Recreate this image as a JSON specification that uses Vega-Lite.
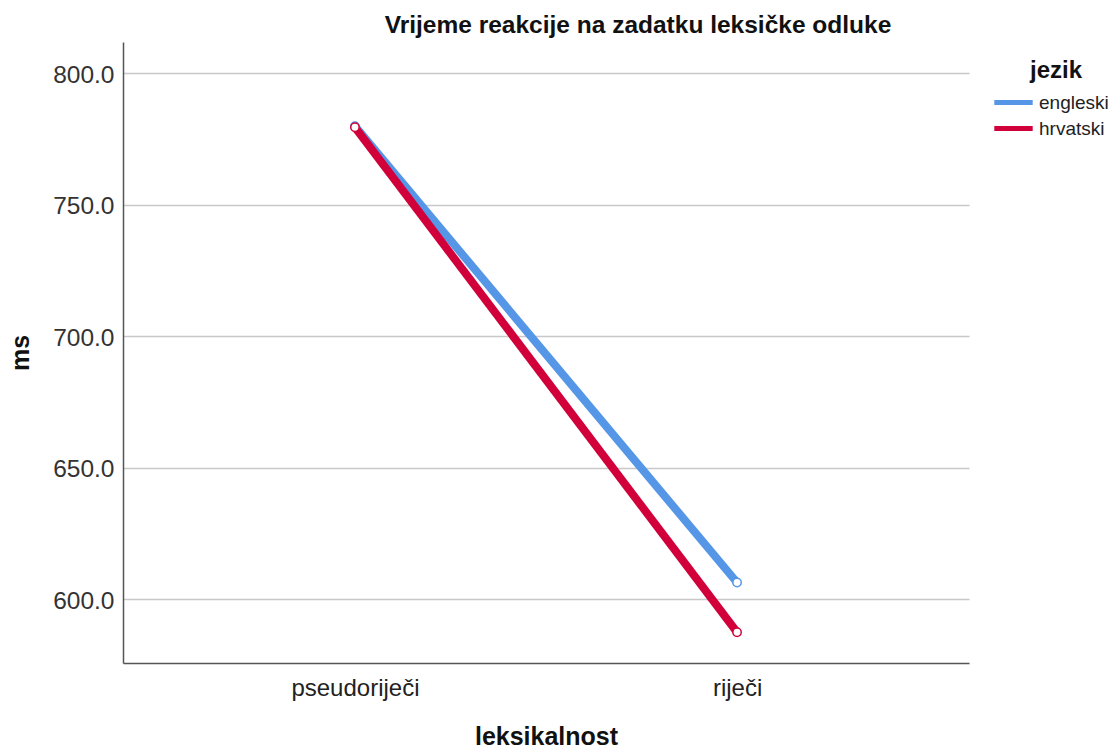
{
  "$schema": "https://vega.github.io/schema/vega-lite/v6.json",
  "width": 846,
  "height": 621,
  "autosize": {"type": "none"},
  "padding": {"left": 123, "top": 42, "right": 144, "bottom": 86},
  "background": "white",
  "title": {
    "text": "Vrijeme reakcije na zadatku leksičke odluke",
    "font": "Liberation Sans",
    "fontSize": 24.5,
    "fontWeight": "bold",
    "color": "#111",
    "anchor": "middle",
    "dx": 92,
    "offset": 4
  },
  "data": {
    "values": [
      {"leksikalnost": "pseudoriječi", "jezik": "engleski", "ms": 779.8},
      {"leksikalnost": "riječi", "jezik": "engleski", "ms": 606.3},
      {"leksikalnost": "pseudoriječi", "jezik": "hrvatski", "ms": 779.4},
      {"leksikalnost": "riječi", "jezik": "hrvatski", "ms": 587.4}
    ]
  },
  "config": {
    "view": {"stroke": null},
    "font": "Liberation Sans"
  },
  "encoding": {
    "x": {
      "field": "leksikalnost",
      "type": "nominal",
      "scale": {"type": "point", "padding": 0.607},
      "sort": ["pseudoriječi", "riječi"],
      "axis": {
        "title": "leksikalnost",
        "labelAngle": 0,
        "labelFontSize": 24,
        "labelColor": "#222",
        "labelPadding": 13,
        "ticks": false,
        "domainColor": "#555",
        "domainWidth": 1.5,
        "titleFontSize": 25,
        "titleFontWeight": "bold",
        "titleColor": "#111",
        "titlePadding": 24
      }
    },
    "y": {
      "field": "ms",
      "type": "quantitative",
      "scale": {"domain": [575.7, 811.8], "nice": false, "zero": false},
      "axis": {
        "title": "ms",
        "values": [600, 650, 700, 750, 800],
        "format": ".1f",
        "labelFontSize": 24.5,
        "labelColor": "#333",
        "labelPadding": 9,
        "labelOffset": 2,
        "ticks": false,
        "grid": true,
        "gridColor": "#c8c8c8",
        "gridWidth": 1.5,
        "domainColor": "#555",
        "domainWidth": 1.5,
        "titleFontSize": 25,
        "titleFontWeight": "bold",
        "titleColor": "#111",
        "titlePadding": 19
      }
    },
    "color": {
      "field": "jezik",
      "type": "nominal",
      "scale": {"domain": ["engleski", "hrvatski"], "range": ["#5596e6", "#d2003a"]},
      "legend": {
        "title": "jezik",
        "orient": "none",
        "legendX": 880,
        "legendY": 17,
        "titleFontSize": 24,
        "titleFontWeight": "bold",
        "titleColor": "#111",
        "titleAlign": "center",
        "titleAnchor": "middle",
        "titlePadding": 9,
        "labelFontSize": 19,
        "labelColor": "#222",
        "labelOffset": 15,
        "symbolType": "M-2.4,0H2.4",
        "symbolStrokeWidth": 5,
        "symbolSize": 256,
        "rowPadding": 5
      }
    }
  },
  "layer": [
    {"mark": {"type": "line", "strokeWidth": 8}},
    {"mark": {"type": "point", "filled": true, "fill": "white", "strokeWidth": 1.5, "size": 70, "opacity": 1}, "encoding": {"stroke": {"field": "jezik", "type": "nominal", "legend": null, "scale": {"domain": ["engleski", "hrvatski"], "range": ["#5596e6", "#d2003a"]}}}}
  ]
}
